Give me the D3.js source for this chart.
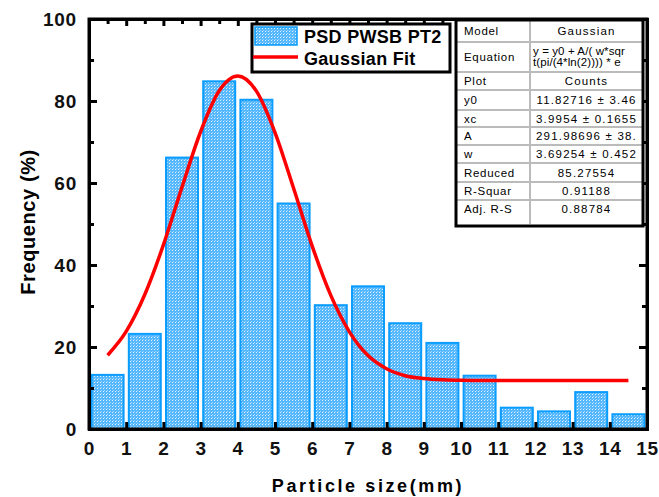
<!DOCTYPE html>
<html>
<head>
<meta charset="utf-8">
<script src="https://cdn.jsdelivr.net/npm/d3@7"></script>
<style>
  body { margin: 0; background: #fff; }
  text { font-family: Arial, "Liberation Sans", sans-serif; }
</style>
</head>
<body>
<div id="chart"></div>
<script>
var width = 659;
var height = 497;

// bar centres and frequencies
var binCenters = [0.5, 1.5, 2.5, 3.5, 4.5, 5.5, 6.5, 7.5, 8.5, 9.5, 10.5, 11.5, 12.5, 13.5, 14.5];
var freqs = [13.2, 23.2, 66.2, 84.8, 80.3, 55.0, 30.2, 34.8, 25.8, 21.0, 13.0, 5.2, 4.3, 9.0, 3.6];

// gaussian fit curve
var fitX = [0.5, 1, 1.5, 2, 2.5, 3, 3.5, 4, 4.5, 5, 5.5, 6, 6.5, 7, 7.5, 8, 8.5, 9, 9.5, 10, 11, 12, 13, 14, 14.5];
var fitY = [18.0, 23.8, 32.8, 44.9, 59.0, 72.5, 82.5, 86.1, 82.4, 72.3, 58.7, 44.6, 32.6, 23.7, 17.9, 14.7, 13.0, 12.3, 12.0, 11.9, 11.8, 11.8, 11.8, 11.8, 11.8];

var xTicks = d3.range(0, 16, 1);
var yTicks = [0, 20, 40, 60, 80, 100];

var tableRows = [
  ["Model", "Gaussian"],
  ["Equation", "y = y0 + A/( w*sqr|t(pi/(4*ln(2)))) * e"],
  ["Plot", "Counts"],
  ["y0", "11.82716 \u00b1 3.46"],
  ["xc", "3.9954  \u00b1 0.1655"],
  ["A", "291.98696 \u00b1 38."],
  ["w", "3.69254 \u00b1 0.452"],
  ["Reduced", "85.27554"],
  ["R-Squar", "0.91188"],
  ["Adj. R-S", "0.88784"]
];
var rowEdges = [20, 42, 72, 90, 110, 127, 145, 163, 182, 200, 218];

var margin = {left: 89, right: 12, top: 19, bottom: 68};

var svg = d3.select("#chart")
  .append("svg")
  .attr("width", width)
  .attr("height", height);

var defs = svg.append("defs");
var pat = defs.append("pattern")
  .attr("id", "dots")
  .attr("patternUnits", "userSpaceOnUse")
  .attr("width", 3)
  .attr("height", 3);
pat.append("rect").attr("width", 3).attr("height", 3).attr("fill", "#55b8ff");
pat.append("rect").attr("x", 1).attr("y", 1).attr("width", 1).attr("height", 1).attr("fill", "#dff1ff");
pat.append("rect").attr("x", 2).attr("y", 0).attr("width", 1).attr("height", 1).attr("fill", "#9fd6ff");

var x = d3.scaleLinear()
  .domain([0, 15])
  .range([margin.left, width - margin.right]);

var y = d3.scaleLinear()
  .domain([0, 100])
  .range([height - margin.bottom, margin.top]);

// bars
var barW = 0.86;
svg.append("g").selectAll("rect")
  .data(freqs)
  .enter()
  .append("rect")
  .attr("x", function(d, i){ return x(binCenters[i] - barW / 2); })
  .attr("y", function(d){ return y(d); })
  .attr("width", x(barW) - x(0))
  .attr("height", function(d){ return y(0) - y(d); })
  .attr("fill", "url(#dots)")
  .attr("stroke", "#0a9dff")
  .attr("stroke-width", 2);

// fit line
var line = d3.line()
  .x(function(d, i){ return x(fitX[i]); })
  .y(function(d){ return y(d); })
  .curve(d3.curveMonotoneX);

svg.append("path")
  .datum(fitY)
  .attr("d", line)
  .attr("fill", "none")
  .attr("stroke", "#ff0000")
  .attr("stroke-width", 3.5);

// axes with inward ticks
var xAxis = d3.axisBottom(x).tickValues(xTicks).tickSize(-7).tickPadding(12).tickFormat(d3.format("d"));
var xg = svg.append("g")
  .attr("transform", "translate(0," + y(0) + ")")
  .call(xAxis);

var yAxis = d3.axisLeft(y).tickValues(yTicks).tickSize(-8).tickPadding(12);
var yg = svg.append("g")
  .attr("transform", "translate(" + x(0) + ",0)")
  .call(yAxis);

svg.append("g")
  .attr("transform", "translate(" + x(0) + ",0)")
  .call(d3.axisLeft(y).tickValues(d3.range(10, 100, 20)).tickSize(-5).tickFormat(""));

svg.append("g")
  .attr("transform", "translate(" + x(15) + ",0)")
  .call(d3.axisRight(y).tickValues(yTicks).tickSize(-8).tickFormat(""));
svg.append("g")
  .attr("transform", "translate(" + x(15) + ",0)")
  .call(d3.axisRight(y).tickValues(d3.range(10, 100, 20)).tickSize(-5).tickFormat(""));

svg.append("g")
  .attr("transform", "translate(0," + y(100) + ")")
  .call(d3.axisTop(x).tickValues(xTicks).tickSize(-7).tickFormat(""));
svg.append("g")
  .attr("transform", "translate(0," + y(100) + ")")
  .call(d3.axisTop(x).tickValues(d3.range(0.5, 15, 1)).tickSize(-5).tickFormat(""));

svg.selectAll(".domain").attr("stroke", "#000").attr("stroke-width", 3);
svg.selectAll(".tick line").attr("stroke", "#000").attr("stroke-width", 3);
svg.selectAll(".tick text")
  .attr("font-size", 19)
  .attr("font-weight", "bold")
  .attr("letter-spacing", 0.8)
  .attr("fill", "#111");
xg.selectAll(".tick text").attr("dy", "0.75em");

// frame
svg.append("rect")
  .attr("x", x(0))
  .attr("y", y(100))
  .attr("width", x(15) - x(0))
  .attr("height", y(0) - y(100))
  .attr("fill", "none")
  .attr("stroke", "#000")
  .attr("stroke-width", 3);

// axis titles
svg.append("text")
  .attr("x", (x(0) + x(15)) / 2)
  .attr("y", 492)
  .attr("text-anchor", "middle")
  .attr("font-size", 18)
  .attr("font-weight", "bold")
  .attr("letter-spacing", 2.6)
  .text("Particle size(mm)");

svg.append("text")
  .attr("transform", "translate(35," + (y(50) - 2) + ") rotate(-90)")
  .attr("text-anchor", "middle")
  .attr("font-size", 20)
  .attr("font-weight", "bold")
  .attr("letter-spacing", 0.6)
  .text("Frequency (%)");

// legend
var lg = svg.append("g");
lg.append("rect")
  .attr("x", 252).attr("y", 24).attr("width", 198).attr("height", 48)
  .attr("fill", "#fff").attr("stroke", "#000").attr("stroke-width", 3);
lg.append("rect")
  .attr("x", 255).attr("y", 27).attr("width", 42).attr("height", 18)
  .attr("fill", "url(#dots)").attr("stroke", "#0a9dff").attr("stroke-width", 1.5);
lg.append("line")
  .attr("x1", 253).attr("x2", 298).attr("y1", 57).attr("y2", 57)
  .attr("stroke", "#ff0000").attr("stroke-width", 3.5);
lg.append("text")
  .attr("x", 304).attr("y", 43)
  .attr("font-size", 18).attr("font-weight", "bold").attr("letter-spacing", 0.3)
  .text("PSD PWSB PT2");
lg.append("text")
  .attr("x", 304).attr("y", 65)
  .attr("font-size", 18).attr("font-weight", "bold").attr("letter-spacing", 0.3)
  .text("Gaussian Fit");

// fit table
var tg = svg.append("g");
var tl = 456, tr = 643, tm = 530;
tg.append("rect")
  .attr("x", tl).attr("y", rowEdges[0]).attr("width", tr - tl).attr("height", rowEdges[rowEdges.length - 1] - rowEdges[0])
  .attr("fill", "#fff");
tg.selectAll("line.row")
  .data(rowEdges.slice(1, rowEdges.length - 1))
  .enter()
  .append("line")
  .attr("x1", tl).attr("x2", tr)
  .attr("y1", function(d){ return d; }).attr("y2", function(d){ return d; })
  .attr("stroke", "#bbb").attr("stroke-width", 2);
tg.append("line")
  .attr("x1", tm).attr("x2", tm).attr("y1", rowEdges[0]).attr("y2", 224)
  .attr("stroke", "#bbb").attr("stroke-width", 2);
tg.append("rect")
  .attr("x", tl).attr("y", rowEdges[0]).attr("width", tr - tl).attr("height", 226 - rowEdges[0])
  .attr("fill", "none").attr("stroke", "#000").attr("stroke-width", 3);

tableRows.forEach(function(r, i){
  var top = rowEdges[i], bot = rowEdges[i + 1];
  var mid = (top + bot) / 2;
  tg.append("text")
    .attr("x", 464).attr("y", mid + 4)
    .attr("font-size", 11.5).attr("letter-spacing", 0.7)
    .text(r[0]);
  var parts = r[1].split("|");
  if (parts.length === 1) {
    tg.append("text")
      .attr("x", (tm + tr) / 2).attr("y", mid + 4)
      .attr("text-anchor", "middle")
      .attr("font-size", 11.5).attr("letter-spacing", 1.2)
      .text(parts[0]);
  } else {
    parts.forEach(function(p, k){
      tg.append("text")
        .attr("x", 533).attr("y", top + 13 + k * 11)
        .attr("font-size", 11.5).attr("letter-spacing", 0.1)
        .text(p);
    });
  }
});
</script>
</body>
</html>
